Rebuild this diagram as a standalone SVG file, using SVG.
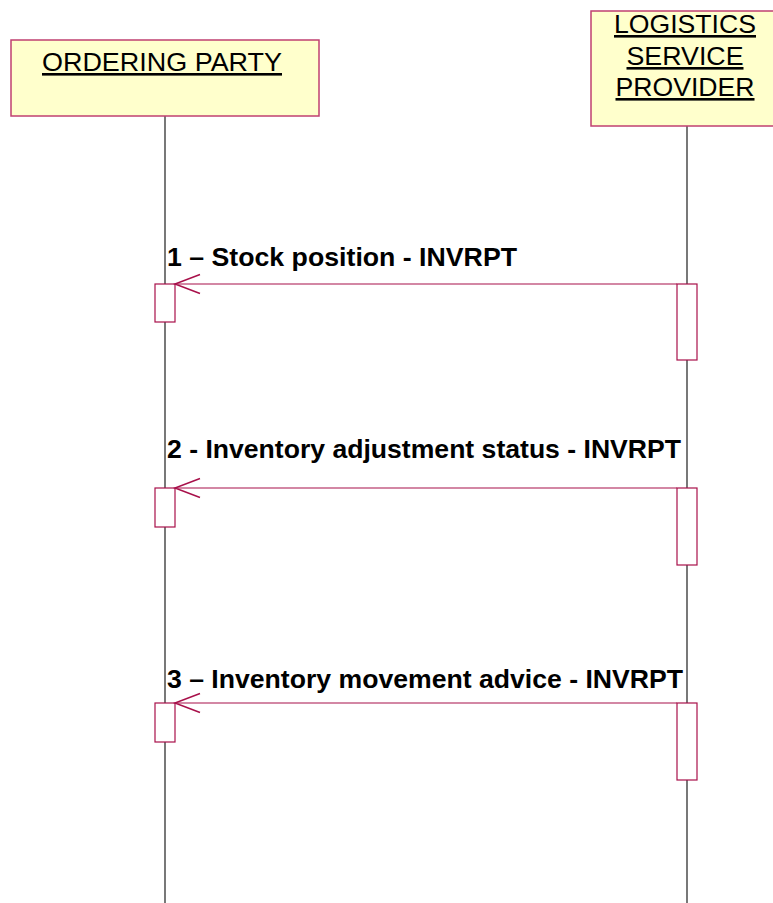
<svg xmlns="http://www.w3.org/2000/svg" width="773" height="903" viewBox="0 0 773 903">
  <style>
    .actor { fill: #ffffcc; stroke: #c04070; stroke-width: 1.5; }
    .actor-label { font-family: "Liberation Sans", Arial, sans-serif; font-size: 26px; fill: #000; text-anchor: middle; text-decoration: underline; }
    .lifeline { stroke: #6a6a6a; stroke-width: 1.8; fill: none; }
    .activation { fill: #ffffff; stroke: #a8104a; stroke-width: 1.2; }
    .msg { stroke: #a8104a; stroke-width: 1.2; fill: none; }
    .msg-label { font-family: "Liberation Sans", Arial, sans-serif; font-size: 26px; font-weight: bold; fill: #000; }
  </style>
  <defs>
    <!-- open V arrowhead; its tip sits on the end of the line -->
    <marker id="open-arrow" markerUnits="userSpaceOnUse" markerWidth="30" markerHeight="24" refX="26" refY="12" orient="auto" viewBox="0 0 30 24">
      <polyline points="1,2.5 26,12 1,21.5" fill="none" stroke="#a8104a" stroke-width="1.5"/>
    </marker>
  </defs>
  <rect x="0" y="0" width="773" height="903" fill="#ffffff"/>

  <g id="ordering-party">
    <line class="lifeline" x1="165" y1="116" x2="165" y2="903"/>
    <rect class="actor" x="11" y="40" width="308" height="76"/>
    <text class="actor-label" x="162" y="71" textLength="240" lengthAdjust="spacingAndGlyphs">ORDERING PARTY</text>
  </g>

  <g id="logistics-service-provider">
    <line class="lifeline" x1="687" y1="126" x2="687" y2="903"/>
    <rect class="actor" x="591" y="11" width="190" height="115"/>
    <text class="actor-label" x="685" y="33" textLength="142" lengthAdjust="spacingAndGlyphs">LOGISTICS</text>
    <text class="actor-label" x="685" y="65" textLength="117" lengthAdjust="spacingAndGlyphs">SERVICE</text>
    <text class="actor-label" x="685" y="96" textLength="139" lengthAdjust="spacingAndGlyphs">PROVIDER</text>
  </g>

  <g id="activations">
    <rect class="activation" x="155" y="284" width="20" height="38"/>
    <rect class="activation" x="677" y="284" width="20" height="76"/>
    <rect class="activation" x="155" y="488" width="20" height="39"/>
    <rect class="activation" x="677" y="488" width="20" height="77"/>
    <rect class="activation" x="155" y="703" width="20" height="39"/>
    <rect class="activation" x="677" y="703" width="20" height="77"/>
  </g>

  <g id="connectors">
    <g id="msg-1">
      <line class="msg" x1="677" y1="284" x2="175" y2="284" marker-end="url(#open-arrow)"/>
      <text class="msg-label" x="167" y="266" textLength="350" lengthAdjust="spacingAndGlyphs">1 – Stock position - INVRPT</text>
    </g>
    <g id="msg-2">
      <line class="msg" x1="677" y1="488" x2="175" y2="488" marker-end="url(#open-arrow)"/>
      <text class="msg-label" x="167" y="458" textLength="514" lengthAdjust="spacingAndGlyphs">2 - Inventory adjustment status - INVRPT</text>
    </g>
    <g id="msg-3">
      <line class="msg" x1="677" y1="703" x2="175" y2="703" marker-end="url(#open-arrow)"/>
      <text class="msg-label" x="167" y="688" textLength="516" lengthAdjust="spacingAndGlyphs">3 – Inventory movement advice - INVRPT</text>
    </g>
  </g>
</svg>
